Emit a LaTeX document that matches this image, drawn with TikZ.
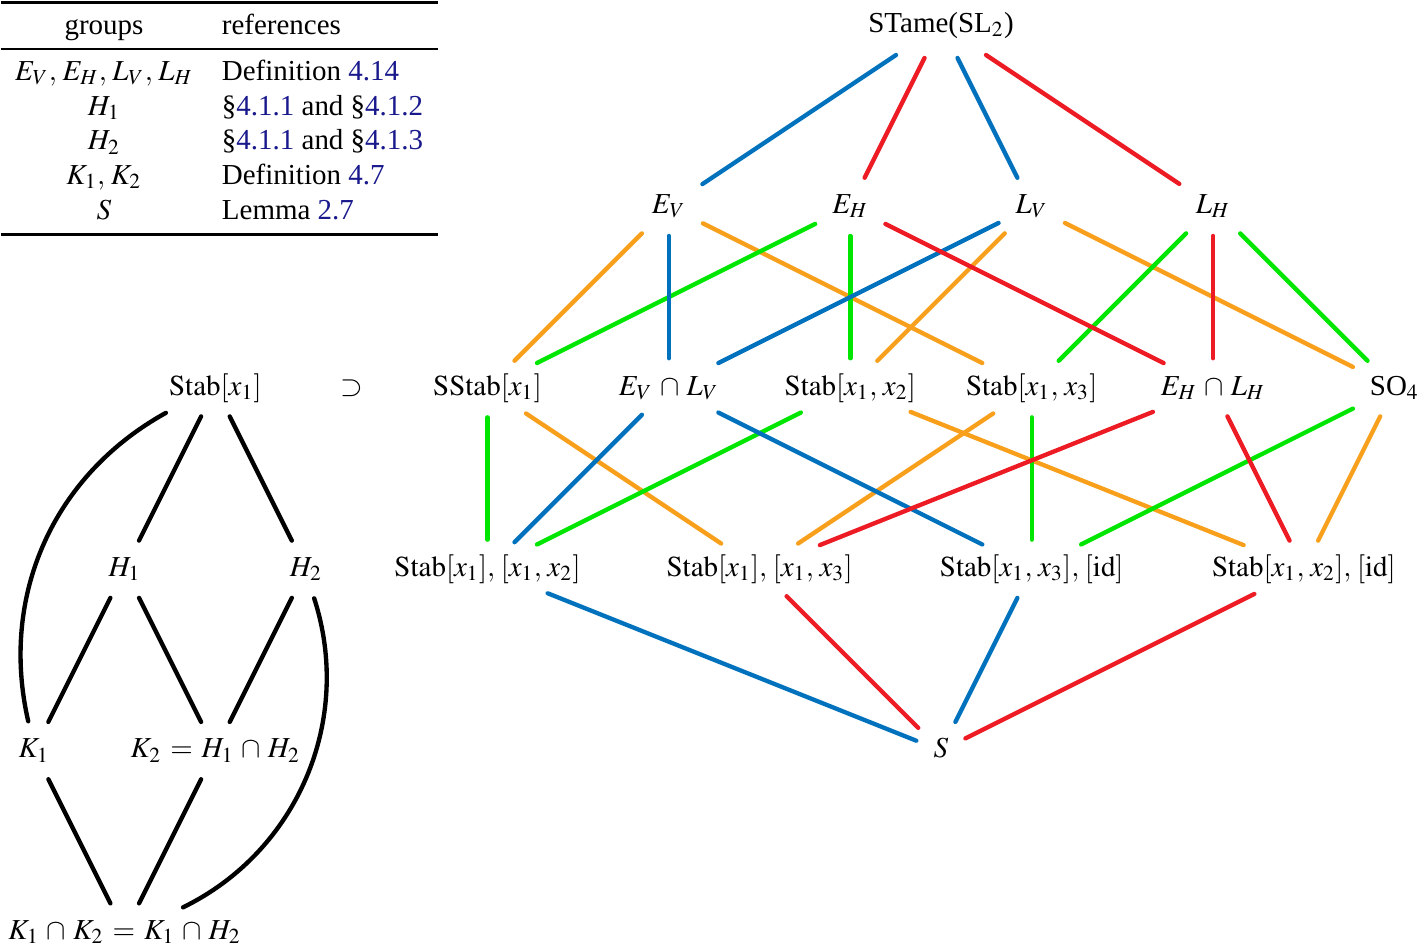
\documentclass[tikz,border=0pt]{standalone}
\usepackage{mathptmx}
\usepackage{fontspec}
\setmainfont{Liberation Serif}
\usepackage{booktabs}
\usepackage{tikz}

\definecolor{refblue}{RGB}{25,25,140}
\definecolor{lblue}{RGB}{0,114,189}
\definecolor{lred}{RGB}{237,28,36}
\definecolor{lorange}{RGB}{248,160,28}
\definecolor{lgreen}{RGB}{0,230,0}
\newcommand{\rf}[1]{\textcolor{refblue}{#1}}
\newcommand{\stb}{\mathrm{Stab}}
\thinmuskip=3.5mu
\medmuskip=4.5mu plus 2mu minus 4mu
\thickmuskip=5.5mu plus 5mu

\begin{document}
\begin{tikzpicture}
  [x=1.1cm,y=-2.2cm,
   grp/.style={inner xsep=3pt,inner ysep=2pt,text height=7.5pt,text depth=2.5pt},
   hasse/.style={line width=1.5pt,line cap=round,shorten <=3pt,shorten >=3pt}]
  \useasboundingbox (-0.375,-0.1377) rectangle (15.314,5.088);

  % table of references
  \node[anchor=north west,inner sep=0pt] (refs) at (-0.375,-0.1377) {%
    \setlength{\tabcolsep}{5pt}\setlength{\heavyrulewidth}{1.1pt}\setlength{\lightrulewidth}{0.7pt}%
    \setlength{\belowrulesep}{0.45ex}\setlength{\aboverulesep}{0.25ex}%
    \begin{tabular}{cl}
      \toprule
      groups & references \\
      \midrule
      $E_V, E_H, L_V, L_H$ & Definition \rf{4.14} \\
      $H_1$ & \S\rf{4.1.1} and \S\rf{4.1.2} \\
      $H_2$ & \S\rf{4.1.1} and \S\rf{4.1.3} \\
      $K_1, K_2$ & Definition \rf{4.7} \\
      $S$ & Lemma \rf{2.7} \\
      \bottomrule
    \end{tabular}};

  % left lattice
  \node[grp] (stab) at (2,2)   {$\stb[x_1]$};
  \node[grp] (sup)  at (3.5,2) {$\supset$};
  \node[grp] (h1)   at (1,3)   {$H_1$};
  \node[grp] (h2)   at (3,3)   {$H_2$};
  \node[grp] (k1)   at (0,4)   {$K_1$};
  \node[grp] (k2)   at (2,4)   {$K_2 = H_1 \cap H_2$};
  \node[grp] (kk)   at (1,5)   {$K_1 \cap K_2 = K_1 \cap H_2$};

  % right lattice
  \node[grp,inner ysep=3.5pt] (stame) at (10,0) {STame(SL$_2$)};
  \node[grp] (ev)    at (7,1)  {$E_V$};
  \node[grp] (eh)    at (9,1)  {$E_H$};
  \node[grp] (lv)    at (11,1) {$L_V$};
  \node[grp] (lh)    at (13,1) {$L_H$};
  \node[grp] (sstab) at (5,2)  {$\mathrm{SStab}[x_1]$};
  \node[grp] (evlv)  at (7,2)  {$E_V \cap L_V$};
  \node[grp] (st12)  at (9,2)  {$\stb[x_1, x_2]$};
  \node[grp] (st13)  at (11,2) {$\stb[x_1, x_3]$};
  \node[grp] (ehlh)  at (13,2) {$E_H \cap L_H$};
  \node[grp] (so4)   at (15,2) {SO$_4$};
  \node[grp] (a12)   at (5,3)  {$\stb[x_1],[x_1, x_2]$};
  \node[grp] (a13)   at (8,3)  {$\stb[x_1],[x_1, x_3]$};
  \node[grp] (b13)   at (11,3) {$\stb[x_1, x_3],[\mathrm{id}]$};
  \node[grp] (b12)   at (14,3) {$\stb[x_1, x_2],[\mathrm{id}]$};
  \node[grp] (s)     at (10,4) {$S$};

  \foreach \from/\to in {stab/h1,stab/h2,h1/k1,h1/k2,h2/k2,k1/kk,k2/kk}
    \draw[hasse] (\from) -- (\to);
  \draw[hasse] (stab) to[bend right=37] (k1);
  \draw[hasse] (h2) to[bend left=41] (kk);

  \foreach \from/\to in {ev/sstab,ev/st13,lv/st12,lv/so4,sstab/a13,st13/a13,st12/b12,so4/b12}
    \draw[hasse,lorange] (\from) -- (\to);
  \foreach \from/\to in {eh/sstab,eh/st12,lh/st13,lh/so4,sstab/a12,st12/a12,st13/b13,so4/b13}
    \draw[hasse,lgreen] (\from) -- (\to);
  \foreach \from/\to in {stame/ev,stame/lv,ev/evlv,lv/evlv,evlv/a12,evlv/b13,a12/s,b13/s}
    \draw[hasse,lblue] (\from) -- (\to);
  \foreach \from/\to in {stame/eh,stame/lh,eh/ehlh,lh/ehlh,ehlh/a13,ehlh/b12,a13/s,b12/s}
    \draw[hasse,lred] (\from) -- (\to);

\end{tikzpicture}
\end{document}
